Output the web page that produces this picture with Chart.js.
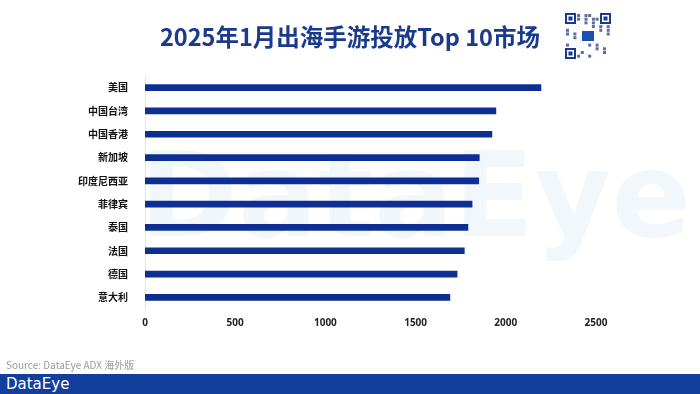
<!DOCTYPE html>
<html>
<head>
<meta charset="utf-8">
<script src="https://cdn.jsdelivr.net/npm/chart.js@4"></script>
<style>
  html, body { margin: 0; padding: 0; background: #fff; }
  .wrap { position: relative; width: 700px; height: 394px; overflow: hidden; font-family: "Noto Sans CJK SC", "Noto Sans", sans-serif; }
  .title { position: absolute; left: 0; width: 700px; top: 19px; text-align: center; font-size: 23.5px; font-weight: 700; color: #1b3a8c; }
  .qr { position: absolute; left: 563px; top: 11px; width: 50px; height: 50px; }
  .chartbox { position: absolute; left: 0; top: 0; width: 700px; height: 394px; }
  .source { position: absolute; left: 6px; top: 357px; font-size: 10px; color: #9a9a9a; }
  .footer { position: absolute; left: 0; top: 374px; width: 700px; height: 20px; background: #123e9c; }
  .footer span { position: absolute; left: 6px; top: 0px; font-family: "DejaVu Sans", sans-serif; font-size: 15px; color: #fff; line-height: 20px; }
</style>
</head>
<body>
<div class="wrap">
  <div class="chartbox"><canvas id="marketChart" width="700" height="394"></canvas></div>
  <div class="title">2025年1月出海手游投放Top 10市场</div>
  <canvas class="qr" id="qr" width="50" height="50"></canvas>
  <div class="source">Source: DataEye ADX 海外版</div>
  <div class="footer"><span>DataEye</span></div>
</div>
<script>
// --- 数据 ---
const markets = ['美国', '中国台湾', '中国香港', '新加坡', '印度尼西亚', '菲律宾', '泰国', '法国', '德国', '意大利'];
const adCounts = [2195, 1945, 1923, 1853, 1850, 1813, 1790, 1770, 1730, 1690];
const xTicks = [0, 500, 1000, 1500, 2000, 2500];

// watermark behind bars
const watermark = {
    id: 'watermark',
    beforeDatasetsDraw(chart) {
        const ctx = chart.ctx;
        ctx.save();
        ctx.fillStyle = 'rgba(232,240,250,0.55)';
        ctx.font = 'bold 118px "DejaVu Sans", sans-serif';
        ctx.textBaseline = 'middle';
        ctx.fillText('DataEye', 140, 205);
        ctx.restore();
    }
};

new Chart(document.getElementById('marketChart'), {
    type: 'bar',
    data: {
        labels: markets,
        datasets: [
            { data: adCounts, backgroundColor: '#0d2f94', barThickness: 6 }
        ]
    },
    options: {
        indexAxis: 'y',
        responsive: false,
        animation: false,
        layout: { padding: { top: 76, right: 104, bottom: 65, left: 0 } },
        plugins: { legend: { display: false }, tooltip: { enabled: false } },
        scales: {
            x: {
                min: 0, max: 2500,
                afterBuildTicks: (s) => { s.ticks = xTicks.map(v => ({ value: v })); },
                grid: { display: false },
                border: { display: false },
                ticks: {
                    color: '#222',
                    font: { size: 10, weight: 'bold', family: '"Noto Sans", sans-serif' },
                    padding: 0,
                    callback: (v) => String(v)
                }
            },
            y: {
                afterFit: (s) => { s.width = 145; },
                grid: { display: false },
                border: { color: '#e4e4e4' },
                ticks: { color: '#111', font: { size: 10, weight: 'bold', family: '"Noto Sans CJK SC", sans-serif' }, padding: 9 }
            }
        }
    },
    plugins: [watermark]
});

// simple QR-like badge
(function () {
    const c = document.getElementById('qr').getContext('2d');
    c.fillStyle = '#fff';
    c.fillRect(0, 0, 50, 50);
    let seed = 7;
    c.fillStyle = '#5b6f9e';
    for (let i = 0; i < 12; i++) {
        for (let j = 0; j < 12; j++) {
            seed = (seed * 37 + 11) % 101;
            if (seed % 3 === 0) c.fillRect(3 + i * 3.7, 3 + j * 3.7, 3, 3);
        }
    }
    function finder(x, y) {
        c.fillStyle = '#fff'; c.fillRect(x - 1, y - 1, 13, 13);
        c.strokeStyle = '#1b3a8c'; c.lineWidth = 2; c.strokeRect(x + 1, y + 1, 9, 9);
        c.fillStyle = '#1b3a8c'; c.fillRect(x + 3.5, y + 3.5, 4, 4);
    }
    finder(2, 2); finder(37, 2); finder(2, 37);
    c.fillStyle = '#fff'; c.fillRect(18, 18, 14, 14);
    c.fillStyle = '#1b4fb0'; c.fillRect(19, 20, 12, 10);
})();
</script>
</body>
</html>
